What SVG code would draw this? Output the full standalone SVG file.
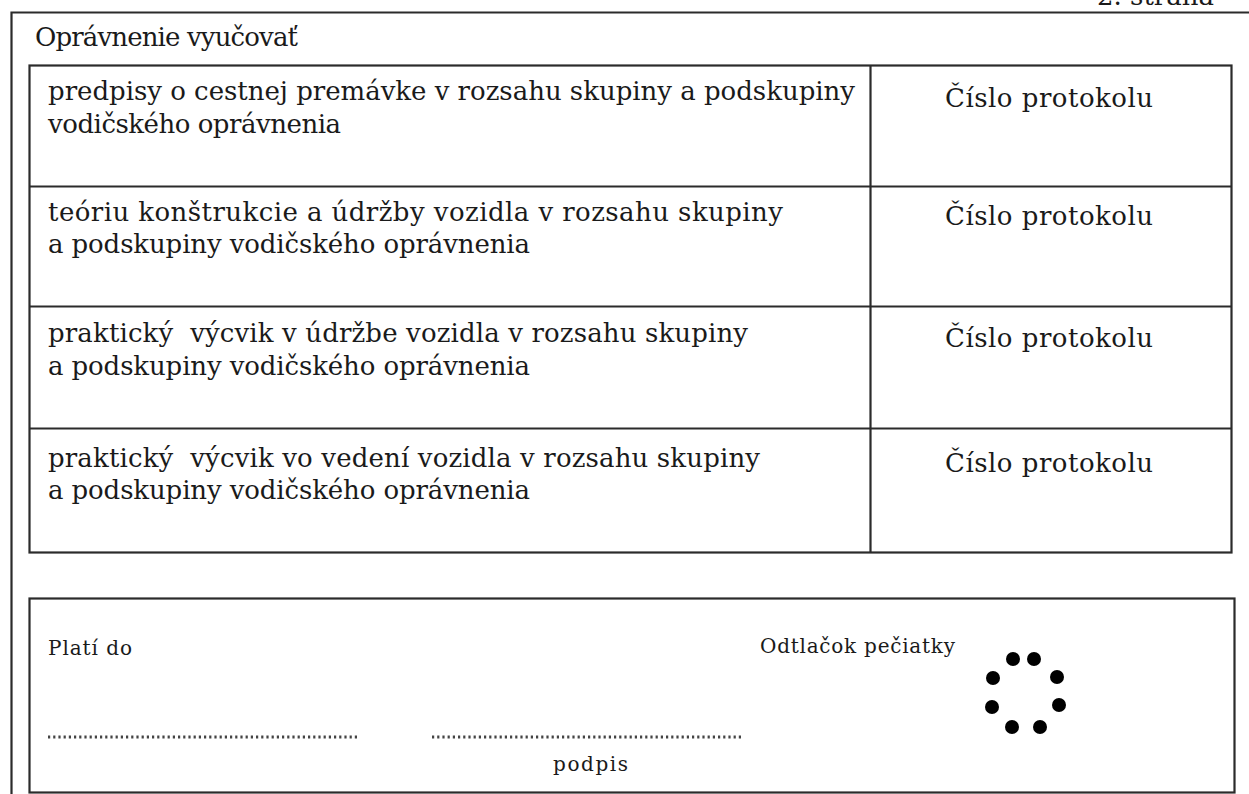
<svg xmlns="http://www.w3.org/2000/svg" width="1249" height="794" viewBox="0 0 1249 794">
<style>
.t{font-family:"DejaVu Serif","Liberation Serif",serif;fill:#1a1a1a}
.m{font-size:26px}
.s{font-size:20px}
.ln{fill:none;stroke:#2b2b2b;stroke-width:2.2}
.dot{fill:none;stroke:#444;stroke-width:3;stroke-dasharray:2.2 3}
</style>
<rect width="1249" height="794" fill="#fff"/>
<g id="header">
<text class="t m" x="1097" y="5">2. strana</text>
</g>
<g id="frame">
<path class="ln" d="M11.5 800 V12.5 H1260"/>
<text class="t m" x="35" y="46" textLength="263">Oprávnenie vyučovať</text>
</g>
<g id="table">
<rect class="ln" x="29.5" y="65.5" width="1202" height="487"/>
<line class="ln" x1="870.5" y1="65.5" x2="870.5" y2="552.5"/>
<line class="ln" x1="29.5" y1="186.5" x2="1231.5" y2="186.5"/>
<line class="ln" x1="29.5" y1="306.5" x2="1231.5" y2="306.5"/>
<line class="ln" x1="29.5" y1="428.5" x2="1231.5" y2="428.5"/>
</g>
<g id="row1">
<text class="t m" x="48" y="100" textLength="807">predpisy o cestnej premávke v rozsahu skupiny a podskupiny</text>
<text class="t m" x="48" y="133" textLength="293">vodičského oprávnenia</text>
<text class="t m" x="945" y="107" textLength="208">Číslo protokolu</text>
</g>
<g id="row2">
<text class="t m" x="48" y="221" textLength="735">teóriu konštrukcie a údržby vozidla v rozsahu skupiny</text>
<text class="t m" x="48" y="253" textLength="482">a podskupiny vodičského oprávnenia</text>
<text class="t m" x="945" y="225" textLength="208">Číslo protokolu</text>
</g>
<g id="row3">
<text class="t m" x="48" y="342" textLength="700" xml:space="preserve">praktický  výcvik v údržbe vozidla v rozsahu skupiny</text>
<text class="t m" x="48" y="375" textLength="482">a podskupiny vodičského oprávnenia</text>
<text class="t m" x="945" y="347" textLength="208">Číslo protokolu</text>
</g>
<g id="row4">
<text class="t m" x="48" y="467" textLength="712" xml:space="preserve">praktický  výcvik vo vedení vozidla v rozsahu skupiny</text>
<text class="t m" x="48" y="499" textLength="482">a podskupiny vodičského oprávnenia</text>
<text class="t m" x="945" y="472" textLength="208">Číslo protokolu</text>
</g>
<g id="validity">
<rect class="ln" x="29.5" y="598.5" width="1205" height="194"/>
<text class="t s" x="48" y="655" textLength="84">Platí do</text>
<text class="t s" x="760" y="653" textLength="195">Odtlačok pečiatky</text>
<line class="dot" x1="48" y1="737" x2="357" y2="737"/>
<line class="dot" x1="432" y1="737" x2="744" y2="737"/>
<text class="t s" x="553" y="771" textLength="75">podpis</text>
</g>
<g id="stamp" fill="#000">
<circle cx="1013" cy="659" r="7"/>
<circle cx="1034" cy="659" r="7"/>
<circle cx="993" cy="678" r="7"/>
<circle cx="1057" cy="677" r="7"/>
<circle cx="992" cy="707" r="7"/>
<circle cx="1059" cy="705" r="7"/>
<circle cx="1012" cy="727" r="7"/>
<circle cx="1040" cy="727" r="7"/>
</g>
</svg>
